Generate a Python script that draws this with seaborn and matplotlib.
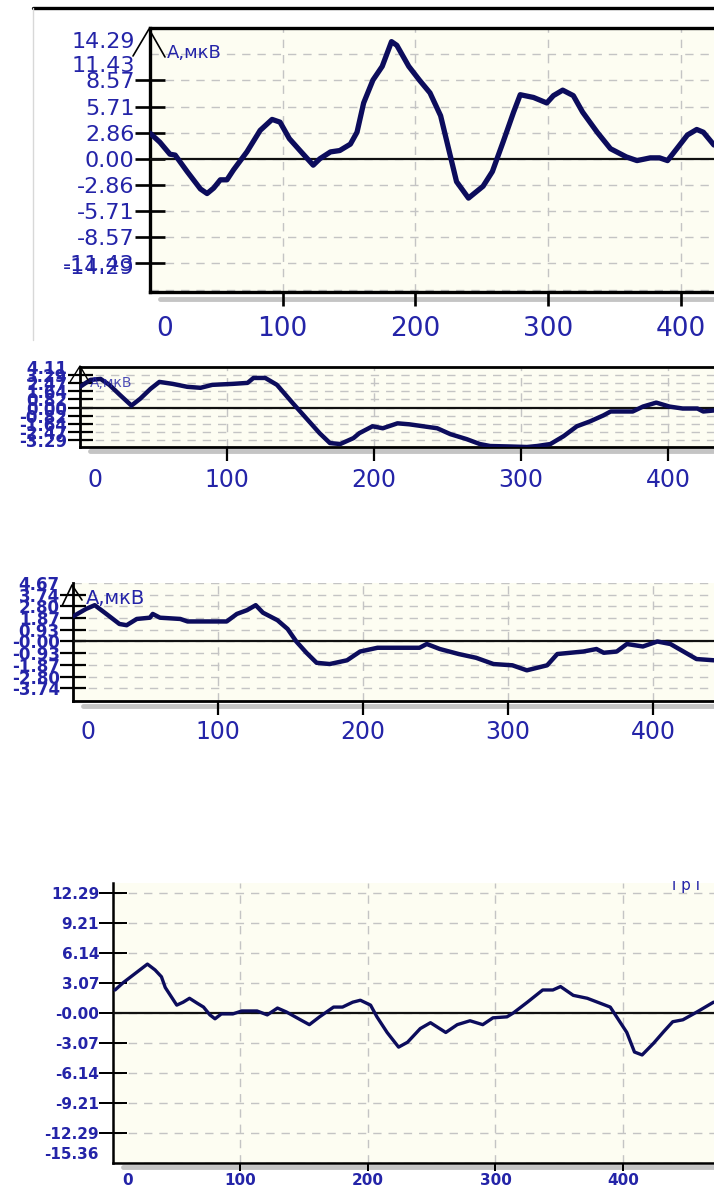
import matplotlib
matplotlib.use("Agg")
import matplotlib.pyplot as plt
from matplotlib.lines import Line2D
from matplotlib.transforms import ScaledTranslation
import seaborn as sns

# ---- data ----
# panel 1
p1_x = [0, 7.5, 15, 19, 28, 38, 43, 48, 53, 58, 63, 73, 83, 92, 98, 105, 113, 123, 128, 136,
        143, 151, 156, 161, 168, 175, 182, 186, 195, 203, 211, 219, 225, 231, 240, 251, 258,
        266, 274, 279, 289, 299, 304, 311, 319, 326, 337, 347, 359, 367, 377, 384, 390, 397,
        405, 412, 417, 425]
p1_y = [2.8, 1.8, 0.5, 0.4, -1.4, -3.3, -3.8, -3.2, -2.3, -2.3, -1.2, 0.75, 3.1, 4.3, 4.0,
        2.2, 0.9, -0.7, 0.0, 0.75, 0.9, 1.6, 2.9, 6.1, 8.6, 10.1, 12.8, 12.4, 10.1, 8.6, 7.2,
        4.7, 1.1, -2.5, -4.3, -3.0, -1.4, 1.8, 5.1, 7.0, 6.7, 6.1, 6.9, 7.5, 6.9, 5.1, 2.9,
        1.1, 0.2, -0.2, 0.1, 0.1, -0.2, 1.1, 2.6, 3.2, 2.9, 1.5]
p1_ticks = [14.29, 11.43, 8.57, 5.71, 2.86, 0.0, -2.86, -5.71, -8.57, -11.43, -14.29]
p1_labels = ["14.29", "11.43", "8.57", "5.71", "2.86", "0.00", "-2.86", "-5.71", "-8.57",
             "-11.43", "-14.29"]

# panel 2
p2_x = [0, 7, 14, 20, 27, 35, 41, 48, 54, 63, 73, 82, 90, 104, 114, 118, 126, 134, 145, 154,
        163, 170, 177, 186, 190, 199, 206, 216, 224, 243, 252, 263, 272, 279, 293, 304, 311,
        320, 329, 338, 347, 356, 361, 376, 383, 392, 401, 410, 420, 424, 431]
p2_y = [2.1, 2.8, 2.9, 2.3, 1.3, 0.2, 0.9, 1.9, 2.6, 2.4, 2.1, 2.0, 2.3, 2.4, 2.5, 3.0, 3.0,
        2.3, 0.4, -1.1, -2.6, -3.6, -3.7, -3.1, -2.6, -1.9, -2.1, -1.6, -1.7, -2.1, -2.7,
        -3.2, -3.7, -3.9, -3.95, -4.0, -3.9, -3.7, -2.9, -1.9, -1.4, -0.8, -0.4, -0.4, 0.1,
        0.5, 0.1, -0.1, -0.1, -0.4, -0.3]
p2_ticks = [4.11, 3.29, 2.47, 1.64, 0.82, 0.0, -0.82, -1.64, -2.47, -3.29]
p2_labels = ["4.11", "3.29", "2.47", "1.64", "0.82", "0.00", "-0.82", "-1.64", "-2.47", "-3.29"]

# panel 3
p3_x = [0, 9, 15, 23, 32, 37, 44, 53, 55, 60, 74, 79, 106, 113, 120, 126, 131, 141, 148, 154,
        161, 168, 177, 189, 198, 210, 239, 244, 253, 266, 278, 290, 303, 313, 320, 327, 334,
        343, 352, 361, 366, 375, 382, 393, 403, 412, 421, 430, 442]
p3_y = [2.0, 2.6, 2.9, 2.2, 1.4, 1.3, 1.8, 1.9, 2.2, 1.9, 1.8, 1.6, 1.6, 2.2, 2.5, 2.9, 2.3,
        1.7, 1.0, 0.0, -0.9, -1.7, -1.8, -1.5, -0.8, -0.5, -0.5, -0.2, -0.6, -1.0, -1.3,
        -1.8, -1.9, -2.3, -2.1, -1.9, -1.0, -0.9, -0.8, -0.6, -0.9, -0.8, -0.2, -0.4, 0.0,
        -0.2, -0.8, -1.4, -1.5]
p3_ticks = [4.67, 3.74, 2.80, 1.87, 0.93, 0.0, -0.93, -1.87, -2.80, -3.74]
p3_labels = ["4.67", "3.74", "2.80", "1.87", "0.93", "-0.00", "-0.93", "-1.87", "-2.80", "-3.74"]

# panel 4
p4_x = [1.6, 8, 16, 27, 33, 38, 41, 45, 50, 55, 60, 66, 71, 76, 80, 85, 94, 101, 113, 121,
        129, 136, 147, 154, 162, 173, 180, 188, 194, 202, 207, 215, 224, 231, 241, 249, 261,
        270, 280, 290, 298, 309, 314, 325, 337, 345, 351, 361, 372, 380, 390, 395, 403, 409,
        415, 424, 432, 439, 447, 458, 471]
p4_y = [2.35, 3.1, 3.9, 5.0, 4.4, 3.7, 2.6, 1.8, 0.8, 1.1, 1.5, 1.0, 0.6, -0.2, -0.6, -0.1,
        -0.1, 0.2, 0.2, -0.2, 0.5, 0.1, -0.7, -1.2, -0.4, 0.6, 0.6, 1.1, 1.3, 0.8, -0.4, -2.0,
        -3.5, -3.0, -1.6, -1.0, -2.0, -1.2, -0.8, -1.2, -0.5, -0.4, 0.0, 1.1, 2.35, 2.35, 2.7,
        1.8, 1.5, 1.1, 0.6, -0.4, -2.0, -4.0, -4.3, -3.1, -1.9, -0.9, -0.7, 0.1, 1.1]
p4_ticks = [12.29, 9.21, 6.14, 3.07, 0.0, -3.07, -6.14, -9.21, -12.29, -15.36]
p4_labels = ["12.29", "9.21", "6.14", "3.07", "-0.00", "-3.07", "-6.14", "-9.21", "-12.29",
             "-15.36"]

x_ticks = [0, 100, 200, 300, 400]
x_labels = ["0", "100", "200", "300", "400"]
unit_label = "A,мкВ"

# ---- styling ----
sns.set_theme(style="white")
plt.rcParams["font.family"] = ["DejaVu Sans"]

W, H = 714, 1191
BLUE = "#2424a8"
NAVY = "#0c0c5c"
BG = "#fdfdf2"
GRID = "#c4c4c4"

fig = plt.figure(figsize=(W / 100, H / 100), dpi=100)
fig.patch.set_facecolor("white")


def rect(left, top, bottom):
    return [left / W, 1 - bottom / H, (W - left) / W, (bottom - top) / H]


def fig_line(xs, ys, **kw):
    fig.add_artist(Line2D([x / W for x in xs], [1 - y / H for y in ys],
                          transform=fig.transFigure, **kw))


def shift(label, dx, dy):
    label.set_transform(label.get_transform() +
                        ScaledTranslation(dx / 100, -dy / 100, fig.dpi_scale_trans))


def make_panel(box, xs, ys, xmax, ylim, yt, yl, lw, spine_lw, ylab_size, xlab_size,
               ylab_weight, xlab_weight, ytick_len, xtick_len, xpad, top_spine):
    ax = fig.add_axes(rect(*box))
    ax.set_facecolor(BG)
    sns.lineplot(x=xs, y=ys, ax=ax, color=NAVY, linewidth=lw, sort=False,
                 solid_joinstyle="round", zorder=5)
    ax.set_xlim(0, xmax)
    ax.set_ylim(*ylim)
    ax.axhline(0, color="#111111", lw=1.6, zorder=4)
    ax.set_yticks(yt, yl)
    ax.set_xticks(x_ticks, x_labels)
    ax.set_xlabel("")
    ax.set_ylabel("")
    ax.grid(True, color=GRID, linestyle=(0, (6, 5)), linewidth=1.0, zorder=1)
    ax.tick_params(axis="y", direction="inout", length=ytick_len, width=spine_lw * 0.8,
                   color="black", labelcolor=BLUE, labelsize=ylab_size, pad=0, left=True)
    ax.tick_params(axis="x", direction="out", length=xtick_len, width=spine_lw * 0.8,
                   color="black", labelcolor=BLUE, labelsize=xlab_size, pad=xpad, bottom=True)
    for t in ax.get_yticklabels():
        t.set_fontweight(ylab_weight)
    for t in ax.get_xticklabels():
        t.set_fontweight(xlab_weight)
    for s in ["left", "bottom", "top"]:
        ax.spines[s].set_color("black")
        ax.spines[s].set_linewidth(spine_lw)
    ax.spines["right"].set_visible(False)
    ax.spines["top"].set_visible(top_spine)
    # first x tick mark hidden, its label pushed right as in the screenshot
    ax.xaxis.get_major_ticks()[0].tick1line.set_visible(False)
    shift(ax.get_xticklabels()[0], 15, 0)
    return ax


# panel 1
ax1 = make_panel((150, 28, 292), p1_x, p1_y, (W - 150) / 1.327, (-14.56, 14.29),
                 p1_ticks, p1_labels, 3.8, 2.4, 16, 19, "normal", "normal", 22, 10, 7, True)
y1 = ax1.get_yticklabels()
ticks1 = ax1.yaxis.get_major_ticks()
for i, dy in [(0, 12), (1, 10), (10, -24)]:
    shift(y1[i], 0, dy)
    ticks1[i].tick1line.set_visible(False)
ax1.text(0.03, 0.905, unit_label, transform=ax1.transAxes, color=BLUE, fontsize=13,
         ha="left", va="center", zorder=6)

# panel 2
ax2 = make_panel((80, 367, 447), p2_x, p2_y, (W - 80) / 1.47, (-4.0, 4.11),
                 p2_ticks, p2_labels, 3.2, 2.0, 12, 17, "bold", "normal", 18, 10, 5, True)
ax2.yaxis.get_major_ticks()[0].tick1line.set_visible(False)
ax2.text(0.015, 0.8, unit_label, transform=ax2.transAxes, color=BLUE, fontsize=10,
         ha="left", va="center", zorder=6, alpha=0.8)

# panel 3
ax3 = make_panel((73, 583, 701), p3_x, p3_y, (W - 73) / 1.45, (-4.75, 4.44),
                 p3_ticks, p3_labels, 3.2, 2.0, 12, 17, "bold", "normal", 19, 10, 4, False)
ax3.yaxis.get_major_ticks()[0].tick1line.set_visible(False)
ax3.text(0.02, 0.87, unit_label, transform=ax3.transAxes, color=BLUE, fontsize=14,
         ha="left", va="center", zorder=6)

# panel 4
ax4 = make_panel((113, 883, 1163), p4_x, p4_y, (W - 113) / 1.275, (-15.36, 13.3),
                 p4_ticks, p4_labels, 2.4, 1.8, 11, 11, "bold", "bold", 20, 6, 1.5, False)
y4 = ax4.get_yticklabels()
shift(y4[-1], 0, -10)
ax4.yaxis.get_major_ticks()[-1].tick1line.set_visible(False)
ax4.text(0.93, 0.99, "ı р ı", transform=ax4.transAxes, color=BLUE, fontsize=11,
         ha="left", va="center", zorder=6)

# screen decorations: frame line, axis arrows, 3D shadow under the x axes
fig_line([33, W], [8, 8], color="black", lw=2.4)
fig_line([33, 33], [8, 340], color="#d8d8d8", lw=1.0)
fig_line([133, 149, 165], [56, 29, 57], color="black", lw=1.2)
fig_line([70, 80, 88], [382, 366, 380], color="black", lw=1.0)
fig_line([62, 72, 82], [606, 585, 600], color="black", lw=1.2)
for x0, y0 in [(160, 299), (90, 451), (83, 706), (123, 1167)]:
    fig_line([x0, W], [y0, y0], color="#c4c4c4", lw=3.5, zorder=0)

fig.savefig("out.png", dpi=100, facecolor="white")
